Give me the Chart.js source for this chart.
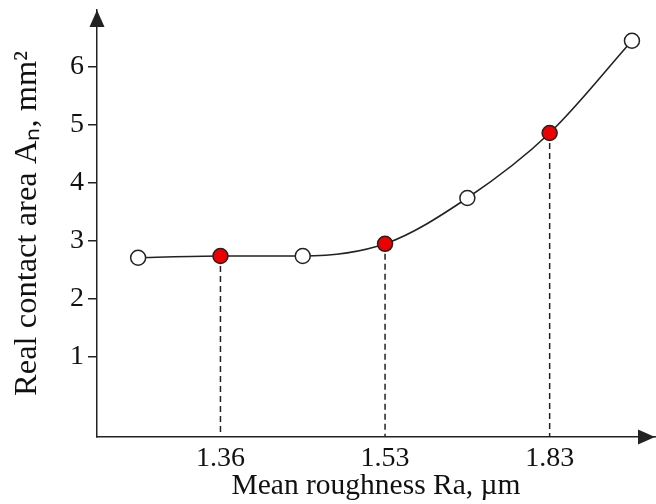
<!DOCTYPE html>
<html><head><meta charset="utf-8">
<script src="https://cdn.jsdelivr.net/npm/chart.js@4"></script>
<style>html,body{margin:0;padding:0;background:#fff}#wrap{width:656px;height:504px}</style>
</head><body><div id="wrap"><canvas id="c" width="656" height="504"></canvas></div>
<script>
// Data
const pointIndex   = [0, 1, 2, 3, 4, 5, 6];
const contactArea  = [2.71, 2.74, 2.74, 2.95, 3.74, 4.86, 6.45];
const markerKind   = ['open', 'filled', 'open', 'filled', 'open', 'filled', 'open'];
const xTickValues  = [1, 3, 5];
const xTickLabels  = ['1.36', '1.53', '1.83'];
const yTickValues  = [1, 2, 3, 4, 5, 6];

const X_MIN = -0.5, X_MAX = 6.28;
const Y_MIN = -0.38, Y_MAX = 6.98;
const AXIS = '#222';
const FONT = "'Liberation Serif', 'Times New Roman', serif";

const mainData = pointIndex.map((x, i) => ({x: x, y: contactArea[i]}));
const fills = markerKind.map(k => k === 'filled' ? '#ee0000' : '#ffffff');

const dashSets = [];
pointIndex.forEach((x, i) => {
  if (markerKind[i] === 'filled') {
    dashSets.push({
      data: [{x: x, y: contactArea[i]}, {x: x, y: Y_MIN}],
      borderColor: '#222', borderWidth: 1.5, borderDash: [6, 4],
      pointRadius: 0, showLine: true, order: 2, tension: 0
    });
  }
});

const arrows = {
  id: 'arrows',
  afterDraw(chart) {
    const {ctx, chartArea: a} = chart;
    ctx.save();
    ctx.fillStyle = AXIS;
    const xl = a.left;
    ctx.beginPath();
    ctx.moveTo(xl, a.top);
    ctx.lineTo(xl - 7.5, a.top + 17);
    ctx.lineTo(xl + 7.5, a.top + 17);
    ctx.closePath(); ctx.fill();
    const yb = a.bottom;
    ctx.beginPath();
    ctx.moveTo(a.right, yb);
    ctx.lineTo(a.right - 17, yb - 7.5);
    ctx.lineTo(a.right - 17, yb + 7.5);
    ctx.closePath(); ctx.fill();
    ctx.restore();
  }
};

new Chart(document.getElementById('c'), {
  type: 'scatter',
  data: {
    datasets: [{
      data: mainData,
      showLine: true,
      borderColor: '#222',
      borderWidth: 1.6,
      cubicInterpolationMode: 'monotone',
      pointRadius: 7.5,
      pointHoverRadius: 7.5,
      pointBorderWidth: 1.5,
      pointBorderColor: '#222',
      pointBackgroundColor: fills,
      clip: false,
      order: 0
    }, ...dashSets]
  },
  options: {
    responsive: false,
    animation: false,
    devicePixelRatio: 1,
    layout: {autoPadding: false, padding: {top: 10, right: 1, bottom: 0, left: 0}},
    plugins: {legend: {display: false}, tooltip: {enabled: false}},
    scales: {
      x: {
        type: 'linear', min: X_MIN, max: X_MAX,
        afterBuildTicks: s => { s.ticks = xTickValues.map(v => ({value: v})); },
        afterFit: s => { s.height = 67; s.paddingLeft = 0; s.paddingRight = 0; },
        grid: {display: false, drawTicks: false},
        border: {display: true, color: AXIS, width: 1.5},
        ticks: {
          color: '#111', padding: 5, maxRotation: 0, autoSkip: false,
          font: {family: FONT, size: 28},
          callback: v => { const k = xTickValues.indexOf(v); return k >= 0 ? xTickLabels[k] : ''; }
        },
        title: {display: true, text: 'Mean roughness Ra, \u00b5m', color: '#111',
          font: {family: FONT, size: 29.5}, padding: {top: 0, bottom: 0}}
      },
      y: {
        type: 'linear', min: Y_MIN, max: Y_MAX,
        afterBuildTicks: s => { s.ticks = yTickValues.map(v => ({value: v})); },
        afterFit: s => { s.width = 97; s.paddingTop = 0; s.paddingBottom = 0; },
        grid: {drawOnChartArea: false, drawTicks: true, tickLength: 9, color: AXIS, lineWidth: 1.5},
        border: {display: true, color: AXIS, width: 1.5},
        ticks: {color: '#111', padding: 4, font: {family: FONT, size: 28}},
        title: {display: true, text: 'Real contact area A\u2099, mm\u00b2', color: '#111',
          font: {family: FONT, size: 32.5}, padding: {top: 8, bottom: 0}}
      }
    }
  },
  plugins: [arrows]
});
</script>
</body></html>
